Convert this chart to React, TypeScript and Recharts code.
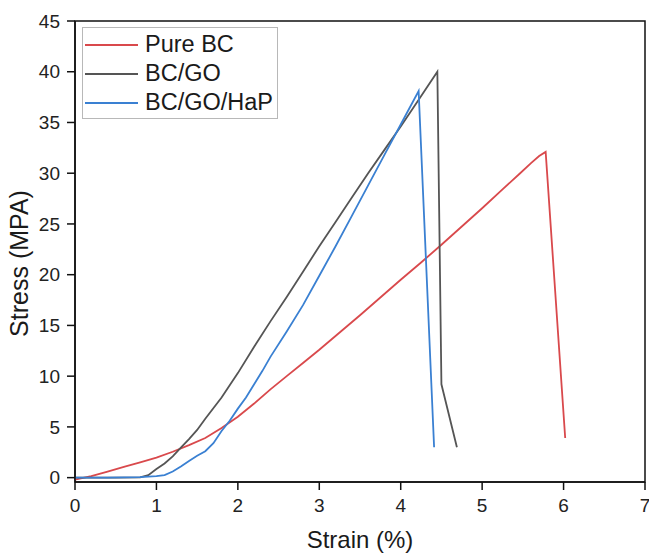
import { LineChart, Line, XAxis, YAxis, Legend, ReferenceArea } from "recharts";

const FONT = '"Liberation Sans", Arial, sans-serif';

const strainTicks = [0, 1, 2, 3, 4, 5, 6, 7];
const stressTicks = [0, 5, 10, 15, 20, 25, 30, 35, 40, 45];
const strainDomain = [0, 7];
const stressDomain = [-0.43, 45];

// Pure BC
const pureBcStrain = [0, 0.2, 0.4, 0.6, 0.8, 1.0, 1.2, 1.4, 1.6, 1.8, 2.0, 2.2, 2.4, 2.6, 2.8, 3.0, 3.25, 3.5, 3.75, 4.0, 4.25, 4.5, 4.75, 5.0, 5.25, 5.46, 5.6, 5.7, 5.78, 6.02];
const pureBcStress = [-0.2, 0.15, 0.6, 1.05, 1.5, 1.97, 2.55, 3.2, 3.9, 4.9, 6.0, 7.3, 8.7, 10.0, 11.3, 12.6, 14.3, 16.0, 17.75, 19.5, 21.2, 22.95, 24.75, 26.55, 28.4, 29.95, 31.0, 31.7, 32.1, 3.9];

// BC/GO
const bcGoStrain = [0, 0.5, 0.8, 0.9, 1.0, 1.1, 1.2, 1.3, 1.4, 1.5, 1.6, 1.8, 2.0, 2.2, 2.4, 2.6, 2.8, 3.0, 3.2, 3.4, 3.6, 3.8, 4.0, 4.2, 4.45, 4.5, 4.69];
const bcGoStress = [0, 0, 0.02, 0.25, 0.85, 1.4, 2.1, 2.95, 3.8, 4.7, 5.8, 7.9, 10.3, 12.9, 15.4, 17.8, 20.3, 22.8, 25.2, 27.6, 30.0, 32.3, 34.6, 37.0, 40.0, 9.2, 3.0];

// BC/GO/HaP
const bcGoHapStrain = [0, 0.4, 0.8, 1.0, 1.1, 1.2, 1.3, 1.4, 1.5, 1.6, 1.7, 1.8, 1.9, 2.0, 2.1, 2.2, 2.3, 2.4, 2.6, 2.8, 3.0, 3.2, 3.4, 3.6, 3.8, 4.0, 4.1, 4.22, 4.41];
const bcGoHapStress = [0, 0, 0.05, 0.15, 0.25, 0.6, 1.1, 1.65, 2.15, 2.6, 3.4, 4.6, 5.6, 6.8, 7.9, 9.2, 10.5, 11.9, 14.4, 17.0, 19.9, 22.8, 25.8, 28.8, 31.8, 34.8, 36.3, 38.1, 3.0];

const toPoints = (xs: number[], ys: number[]) =>
  xs.map((strain, i) => ({ strain, stress: ys[i] }));

const series = [
  { name: "Pure BC", color: "#d9494c", data: toPoints(pureBcStrain, pureBcStress) },
  { name: "BC/GO", color: "#555555", data: toPoints(bcGoStrain, bcGoStress) },
  { name: "BC/GO/HaP", color: "#3a80d2", data: toPoints(bcGoHapStrain, bcGoHapStress) },
];
const seriesOrder = series.map((s) => s.name);

const tickStyle = { fontSize: 19, fill: "#222", fontFamily: FONT };

function renderLegend({ payload }: any) {
  const items = [...(payload || [])].sort(
    (a: any, b: any) => seriesOrder.indexOf(a.value) - seriesOrder.indexOf(b.value)
  );
  return (
    <div
      style={{
        border: "1px solid #b8b8b8",
        background: "#fff",
        padding: "2px 4px 1px 2px",
        fontFamily: FONT,
        fontSize: 23.5,
        color: "#1a1a1a",
      }}
    >
      {items.map((p: any) => (
        <div key={p.value} style={{ display: "flex", alignItems: "center", height: 29 }}>
          <span
            style={{ display: "inline-block", width: 53, borderTop: `2px solid ${p.color}`, marginRight: 7 }}
          />
          <span>{p.value}</span>
        </div>
      ))}
    </div>
  );
}

export default function App() {
  return (
    <div>
      <style>{`body{margin:0} .recharts-surface{overflow:visible}`}</style>
      <LineChart
        width={649}
        height={554}
        margin={{ top: 21, right: 4, bottom: 12, left: 15 }}
      >
        <XAxis
          dataKey="strain"
          type="number"
          domain={strainDomain}
          ticks={strainTicks}
          interval={0}
          height={60}
          tick={tickStyle}
          tickSize={8}
          tickMargin={9}
          axisLine={{ stroke: "#111", strokeWidth: 1.5 }}
          tickLine={{ stroke: "#111", strokeWidth: 1.5 }}
          label={(props: any) => {
            const vb = props.viewBox;
            return (
              <text
                x={vb.x + vb.width / 2}
                y={vb.y + 66}
                textAnchor="middle"
                fontSize={24}
                fontFamily={FONT}
                fill="#1a1a1a"
              >
                Strain (%)
              </text>
            );
          }}
        />
        <YAxis
          type="number"
          domain={stressDomain}
          ticks={stressTicks}
          interval={0}
          width={60}
          tick={tickStyle}
          tickSize={8}
          tickMargin={7}
          axisLine={{ stroke: "#111", strokeWidth: 1.5 }}
          tickLine={{ stroke: "#111", strokeWidth: 1.5 }}
          label={(props: any) => {
            const vb = props.viewBox;
            const cx = vb.x + 4;
            const cy = vb.y + vb.height / 2 + 12;
            return (
              <text
                x={cx}
                y={cy}
                transform={`rotate(-90 ${cx} ${cy})`}
                textAnchor="middle"
                dominantBaseline="central"
                fontSize={25}
                fontFamily={FONT}
                fill="#1a1a1a"
              >
                Stress (MPA)
              </text>
            );
          }}
        />
        <ReferenceArea
          x1={strainDomain[0]}
          x2={strainDomain[1]}
          y1={stressDomain[0]}
          y2={stressDomain[1]}
          fill="none"
          fillOpacity={0}
          stroke="#111"
          strokeWidth={1.5}
          ifOverflow="visible"
        />
        <Legend
          layout="vertical"
          verticalAlign="middle"
          align="center"
          content={renderLegend}
          wrapperStyle={{ left: 82, top: 27, width: "auto", height: "auto" }}
        />
        {series.map((s) => (
          <Line
            key={s.name}
            name={s.name}
            data={s.data}
            dataKey="stress"
            type="linear"
            stroke={s.color}
            strokeWidth={1.8}
            dot={false}
            activeDot={false}
            isAnimationActive={false}
          />
        ))}
      </LineChart>
    </div>
  );
}
